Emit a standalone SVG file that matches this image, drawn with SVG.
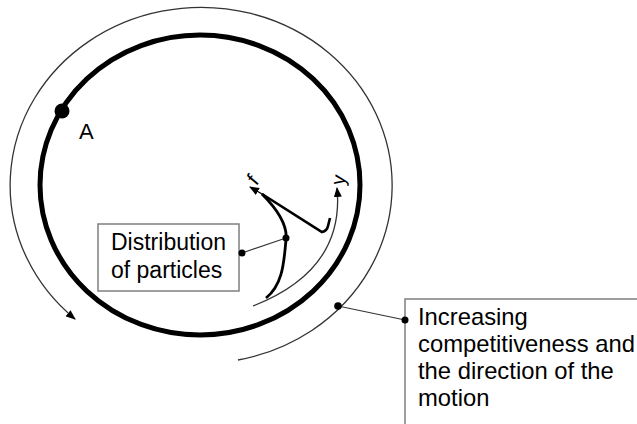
<svg xmlns="http://www.w3.org/2000/svg" width="637" height="424" viewBox="0 0 637 424">
<style>
.thin{fill:none;stroke:#333;stroke-width:1.3}
.lead{fill:none;stroke:#333;stroke-width:1.2}
.box{fill:#fff;stroke:#7f7f7f;stroke-width:1.5}
.lbl{font-family:"Liberation Sans",Arial,sans-serif;fill:#000}
.dot{fill:#000}
</style>
<defs>
<marker id="ah" markerUnits="userSpaceOnUse" markerWidth="10" markerHeight="8" refX="9" refY="4" orient="auto">
<path d="M0,0 L10,4 L0,8 z" fill="#000"/>
</marker>
</defs>
<rect width="637" height="424" fill="#fff"/>
<g id="cycle">
<ellipse cx="200" cy="185" rx="160" ry="150" fill="none" stroke="#000" stroke-width="5"/>
</g>
<g id="motion-arc">
<path class="thin" d="M238,360 A191,178 0 1 0 75,319" marker-end="url(#ah)"/>
</g>
<g id="pointA">
<circle cx="62" cy="111" r="7.5" class="dot"/>
<text class="lbl" x="79" y="139" font-size="22">A</text>
</g>
<g id="distribution">
<path class="thin" d="M253,306 Q345,270 337,188" marker-end="url(#ah)"/>
<path fill="none" stroke="#000" stroke-width="2.6" d="M262,194 L322,232 Q327,231 328,226 L330,218"/>
<path fill="none" stroke="#000" stroke-width="1.3" d="M262,194 L250,187" marker-end="url(#ah)"/>
<path fill="none" stroke="#000" stroke-width="2.8" d="M262,194 C276,208 288,224 286,240 C284,258 284,284 266,298"/>
<text class="lbl" x="0" y="0" font-size="20" text-anchor="middle" transform="translate(345,181) rotate(-80)">y</text>
<text class="lbl" x="0" y="0" font-size="20" text-anchor="middle" transform="translate(258,184) rotate(-50)">f</text>
</g>
<g id="label-distribution">
<rect class="box" x="98" y="224" width="141" height="67"/>
<text class="lbl" x="111" y="250" font-size="23">Distribution</text>
<text class="lbl" x="111" y="278" font-size="23">of particles</text>
</g>
<g id="label-motion">
<rect class="box" x="405" y="299" width="240" height="140"/>
<text class="lbl" x="418" y="325" font-size="23.8">Increasing</text>
<text class="lbl" x="418" y="352" font-size="23.8">competitiveness and</text>
<text class="lbl" x="418" y="379" font-size="23.8">the direction of the</text>
<text class="lbl" x="418" y="406" font-size="23.8">motion</text>
</g>
<g id="connectors">
<path class="lead" d="M286,238 L242,253"/>
<circle cx="286" cy="238" r="3.5" class="dot"/>
<circle cx="242" cy="253" r="3.5" class="dot"/>
<path class="lead" d="M338,306 L405,320"/>
<circle cx="338" cy="306" r="3.8" class="dot"/>
<circle cx="405" cy="320" r="3.5" class="dot"/>
</g>
</svg>
